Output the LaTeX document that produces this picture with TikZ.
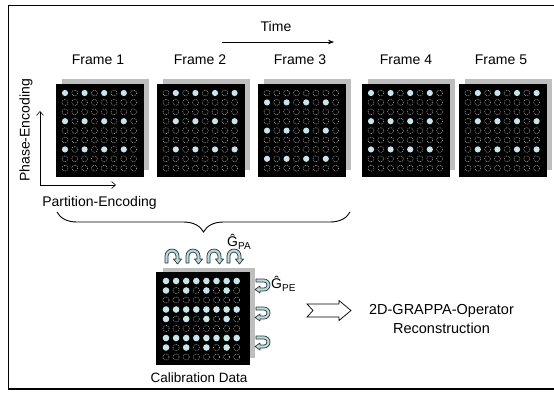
\documentclass[tikz,border=0pt]{standalone}
\usepackage{fontspec}
\setmainfont{Liberation Sans}
\usetikzlibrary{arrows.meta,decorations.pathreplacing}
\definecolor{dotc}{HTML}{C8E6EA}
\definecolor{arrc}{HTML}{B4DCE2}
\definecolor{shadowc}{HTML}{BEBEBE}
\tikzset{
  lbl/.style={font=\fontsize{14}{17}\selectfont, inner sep=0pt},
  blackbox/.style={fill=black, inner sep=0pt, anchor=north west},
  shadowbox/.style={fill=shadowc},
  fulldot/.style={fill=dotc},
  emptydot/.style={draw=white!70!black, dash pattern=on 0.9pt off 0.9pt, line width=0.5pt},
  axisline/.style={line width=0.6pt, -{Straight Barb[length=4pt,width=7pt]}},
  paarrow/.pic={\filldraw[fill=arrc, draw=black!80, line width=0.7pt, line join=round]
    (-7,0) -- (-7,-7) arc(180:360:7) -- (7,-4) -- (9.5,-4) -- (5.5,1) -- (1.5,-4) -- (4,-4)
    -- (4,-7) arc(360:180:4) -- (-4,0) -- cycle;},
  pearrow/.pic={\filldraw[fill=arrc, draw=black!80, line width=0.7pt, line join=round]
    (0,-6) -- (8,-6) arc(270:450:6) -- (4,6) -- (4,8) -- (-1,4.5) -- (4,1) -- (4,3)
    -- (8,3) arc(90:-90:3) -- (0,-3) -- cycle;}
}
\begin{document}
\begin{tikzpicture}[x=1pt,y=-1pt]
\useasboundingbox (0,0) rectangle (554,392);
% outer frame (left, top, bottom)
\draw[line width=1.3pt] (570,5.5) -- (8.5,5.5) -- (8.5,389) -- (570,389);

% Time
\node[lbl] (time) at (276,26.5) {Time};
\coordinate (tA) at (222,42);
\coordinate (tB) at (334,42);
\draw[line width=0.7pt, -{Stealth[length=6pt,width=4.5pt]}] (tA) -- (tB);

% frames
\foreach \i/\L/\r/\c/\tx in {1/56/0/0/98, 2/157/0/1/200, 3/258/1/0/300, 4/362/0/0/406, 5/459/0/1/501} {
  \fill[shadowbox] (\L+6,79) rectangle (\L+93,170);
  \node[blackbox, minimum width=88pt, minimum height=93pt] (f\i) at (\L,84) {};
  \node[lbl] (fl\i) at (\tx,60) {Frame \i};
  \foreach \k in {0,...,7} {
    \foreach \j in {0,...,8} {
      \pgfmathtruncatemacro\isfull{(mod(\j,3)==\r) && (mod(\k,2)==\c) ? 1 : 0}
      \ifnum\isfull=1
        \fill[fulldot] (\L+9+\k*9.8, 93+\j*9.4) circle (3.1);
      \else
        \draw[emptydot] (\L+9+\k*9.8, 93+\j*9.4) circle (3);
      \fi
    }
  }
}

% axes
\coordinate (ax0) at (40,185);
\coordinate (axY) at (40,111);
\coordinate (axX) at (116,185);
\draw[axisline] (ax0) -- (axY);
\draw[axisline] (ax0) -- (axX);
\node[lbl, rotate=90] (pe) at (26,130.5) {Phase-Encoding};
\node[lbl] (pa) at (99.5,203) {Partition-Encoding};

% brace
\coordinate (bL) at (57,212);
\coordinate (bR) at (350,212);
\draw[line width=0.9pt, decorate, decoration={brace, amplitude=20pt, mirror}] (bL) -- (bR);

% calibration data
\fill[shadowbox] (163,268) rectangle (255,358);
\node[blackbox, minimum width=94pt, minimum height=93pt] (cal) at (156,272) {};
\foreach \k in {0,...,7} {
  \foreach \j in {0,...,8} {
    \pgfmathtruncatemacro\isfull{(mod(\j,3)==0) || ((mod(\j,3)==1) && (mod(\k,2)==0)) ? 1 : 0}
    \ifnum\isfull=1
      \fill[fulldot] (166+\k*10.1, 281+\j*9.5) circle (3.3);
    \else
      \draw[emptydot] (166+\k*10.1, 281+\j*9.5) circle (3.1);
    \fi
  }
}
\node[lbl, font=\fontsize{13.5}{16}\selectfont] (caltext) at (199,378) {Calibration Data};

% G_PA arrows
\foreach \x in {172,193,214,234} { \pic at (\x,263) {paarrow}; }
\node[lbl, anchor=west] (gpa) at (227,242) {Ĝ\raisebox{-0.35ex}{\fontsize{10}{12}\selectfont PA}};

% G_PE arrows
\foreach \y in {285,313,342} { \pic at (256,\y) {pearrow}; }
\node[lbl, anchor=west] (gpe) at (271,284) {Ĝ\raisebox{-0.35ex}{\fontsize{10}{12}\selectfont PE}};

% hollow arrow
\draw[line width=0.7pt, line join=miter] (307,304) -- (313,310.5) -- (307,317) -- (339,317)
  -- (339,320.5) -- (351,310.5) -- (339,300.5) -- (339,304) -- cycle;
\node[lbl, align=center, font=\fontsize{14.5}{18.5}\selectfont] (recon) at (441.5,319) {2D-GRAPPA-Operator\\Reconstruction};
\end{tikzpicture}
\end{document}
